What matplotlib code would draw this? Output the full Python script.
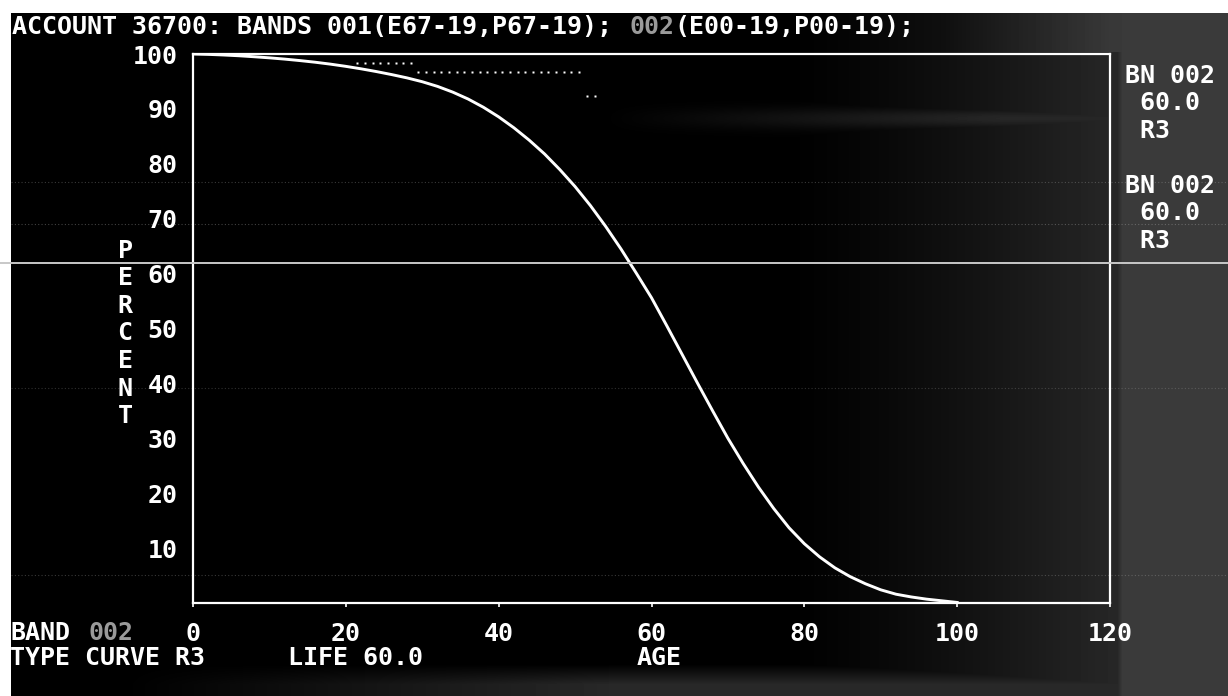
import numpy as np
import matplotlib
matplotlib.use("Agg")
import matplotlib.pyplot as plt
from matplotlib.lines import Line2D

# ---- data ---------------------------------------------------------------
# R3 type curve, life 60.0 (percent surviving by age)
curve_age = [0, 2, 4, 6, 8, 10, 12, 14, 16, 18, 20, 22, 24, 26, 28, 30, 32,
             34, 36, 38, 40, 42, 44, 46, 48, 50, 52, 54, 56, 58, 60, 62, 64,
             66, 68, 70, 72, 74, 76, 78, 80, 82, 84, 86, 88, 90, 92, 94, 96,
             98, 100]
curve_pct = [100.0, 99.93, 99.82, 99.68, 99.5, 99.3, 99.07, 98.8, 98.5, 98.15,
             97.75, 97.3, 96.8, 96.25, 95.65, 94.95, 94.1, 93.05, 91.8, 90.3,
             88.55, 86.55, 84.3, 81.8, 78.95, 75.85, 72.4, 68.6, 64.5, 60.1,
             55.6, 50.5, 45.3, 40.1, 35.0, 30.0, 25.4, 21.1, 17.2, 13.7, 10.8,
             8.4, 6.4, 4.8, 3.5, 2.4, 1.6, 1.1, 0.7, 0.4, 0.1]

# observed points of band 001
obs_age = [21.5, 22.5, 23.5, 24.5, 25.5, 26.5, 27.5, 28.5,
           29.5, 30.5, 31.5, 32.5, 33.5, 34.5, 35.5, 36.5, 37.5, 38.5, 39.5,
           40.5, 41.5, 42.5, 43.5, 44.5, 45.5, 46.5, 47.5, 48.5, 49.5, 50.5,
           51.6, 52.6]
obs_pct = [98.4] * 8 + [96.8] * 22 + [92.3] * 2

x_ticks = [0, 20, 40, 60, 80, 100, 120]
y_ticks = [10, 20, 30, 40, 50, 60, 70, 80, 90, 100]

title_main = "ACCOUNT 36700: BANDS 001(E67-19,P67-19); "
title_band = "002"
title_tail = "(E00-19,P00-19);"
side_labels = ["BN 002", " 60.0", " R3"]
ylabel_letters = "PERCENT"

# ---- figure -------------------------------------------------------------
W, H = 1228, 696
fig = plt.figure(figsize=(W / 100, H / 100), dpi=100)
MONO = "DejaVu Sans Mono"
FS = 18
DIM = "#9a9a9a"

# background: black screen with the scanner's grey cast toward the right
yy, xx = np.mgrid[0:H, 0:W].astype(float)
g = 0.15 * np.clip((xx - 780) / 330.0, 0, 1) ** 1.3
g = np.maximum(g, 0.23 * np.clip((xx - 1108) / 14.0, 0, 1))
g = np.maximum(g, 0.22 * np.clip((xx - 880) / 230.0, 0, 1) * (yy < 52))
g = np.maximum(g, 0.16 * np.clip((yy - 664) / 20.0, 0, 1)
               * np.clip((xx - 120) / 500.0, 0, 1))
g = np.maximum(g, 0.15 * np.exp(-((yy - 118) / 11.0) ** 2)
               * np.clip((xx - 600) / 400.0, 0, 1))
g = np.where((xx < 11) | (yy < 13), 1.0, g)
bg = fig.add_axes([0, 0, 1, 1], zorder=0)
bg.imshow(g, extent=[0, W, H, 0], cmap="gray", vmin=0, vmax=1,
          aspect="auto", interpolation="bilinear")
bg.set_xlim(0, W)
bg.set_ylim(H, 0)
bg.axis("off")


def fx(x):
    return x / W


def fy(y):
    return 1 - y / H


def put(x, y, s, color="white", ha="left"):
    # y is the text baseline, in pixels from the top
    fig.text(fx(x), fy(y), s, color=color, ha=ha, va="baseline",
             family=MONO, fontsize=FS, fontweight="bold", zorder=5)


# plotting area
ax = fig.add_axes([fx(193), fy(603), fx(1110) - fx(193), fy(54) - fy(603)],
                  zorder=2)
ax.set_facecolor("none")
ax.set_xlim(0, 120)
ax.set_ylim(0, 100)
for sp in ax.spines.values():
    sp.set_color("white")
    sp.set_linewidth(1.6)

ax.plot(curve_age, curve_pct, color="white", lw=2.1, solid_joinstyle="round")
ax.plot(obs_age, obs_pct, ls="none", marker="s", ms=2.0, color="white",
        mec="none")

ax.set_xticks(x_ticks)
ax.set_xticklabels([str(v) for v in x_ticks])
ax.set_yticks(y_ticks)
ax.set_yticklabels([str(v) for v in y_ticks])
ax.tick_params(axis="x", colors="white", length=3, width=1.2, direction="out",
               pad=11)
ax.tick_params(axis="y", colors="white", length=0, pad=11)
for lab in ax.get_xticklabels() + ax.get_yticklabels():
    lab.set_family(MONO)
    lab.set_fontsize(FS)
    lab.set_fontweight("bold")
    lab.set_color("white")

# title line
char_w = 15.05
put(12, 34, title_main)
put(12 + char_w * len(title_main), 34, title_band, color=DIM)
put(12 + char_w * (len(title_main) + len(title_band)), 34, title_tail)

# vertical axis title, one letter per row
for i, ch in enumerate(ylabel_letters):
    put(125, 258 + i * 27.5, ch, ha="center")

# curve legends on the right
for base in (83, 193):
    for j, s in enumerate(side_labels):
        put(1125, base + j * 27.5, s)

# footer
put(10, 640, "BAND")
put(88, 640, title_band, color=DIM)
put(10, 665, "TYPE CURVE R3")
put(288, 665, "LIFE 60.0")
put(637, 665, "AGE")

# scan lines across the screen
fig.add_artist(Line2D([0, 1], [fy(263), fy(263)], color="#c8c8c8", lw=1.4,
                      transform=fig.transFigure, zorder=6))
for yl, a in ((182, 0.30), (224, 0.35), (388, 0.25), (575, 0.30)):
    fig.add_artist(Line2D([fx(11), 1], [fy(yl), fy(yl)], color="#bbbbbb",
                          lw=0.8, ls=(0, (1, 2)), alpha=a,
                          transform=fig.transFigure, zorder=1))

fig.savefig("out.png", dpi=100, facecolor="black")
